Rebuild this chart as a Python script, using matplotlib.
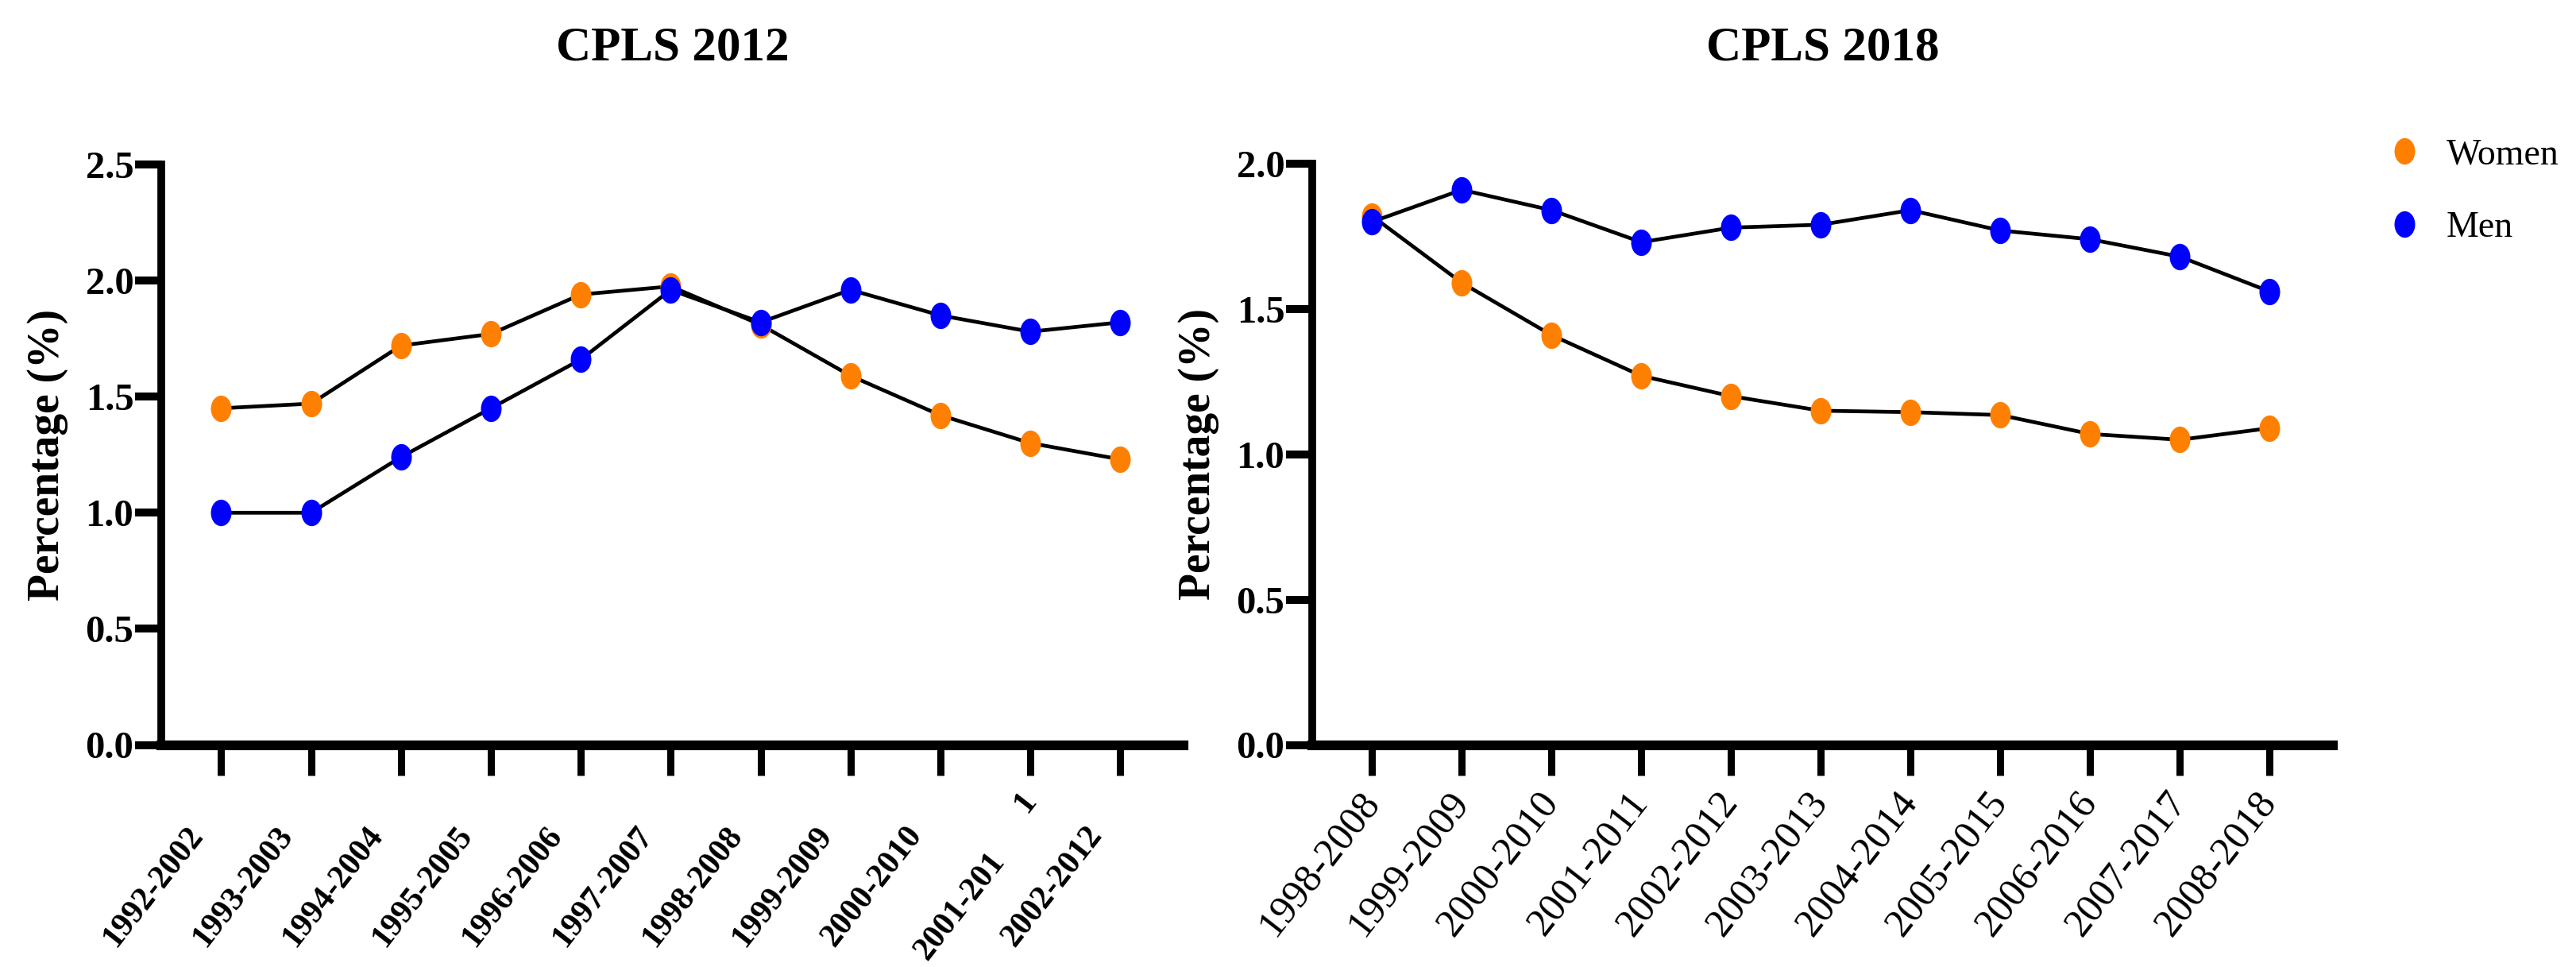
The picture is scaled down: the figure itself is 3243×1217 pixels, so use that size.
import matplotlib
matplotlib.use("Agg")
import matplotlib.pyplot as plt
from matplotlib.path import Path
from matplotlib.transforms import Affine2D, ScaledTranslation
from matplotlib.lines import Line2D

plt.rcParams['font.family'] = ['Liberation Serif', 'DejaVu Serif']

periods_2012 = ["1992-2002", "1993-2003", "1994-2004", "1995-2005", "1996-2006",
                "1997-2007", "1998-2008", "1999-2009", "2000-2010", "2001-201",
                "2002-2012"]
women_2012 = [1.45, 1.47, 1.72, 1.77, 1.94, 1.975, 1.81, 1.59, 1.42, 1.30, 1.23]
men_2012 = [1.00, 1.00, 1.24, 1.45, 1.66, 1.96, 1.82, 1.96, 1.85, 1.78, 1.82]

periods_2018 = ["1998-2008", "1999-2009", "2000-2010", "2001-2011", "2002-2012",
                "2003-2013", "2004-2014", "2005-2015", "2006-2016", "2007-2017",
                "2008-2018"]
women_2018 = [1.82, 1.59, 1.41, 1.27, 1.20, 1.15, 1.145, 1.135, 1.07, 1.05, 1.09]
men_2018 = [1.80, 1.91, 1.84, 1.73, 1.78, 1.79, 1.84, 1.77, 1.74, 1.68, 1.56]

ticks_2012 = [0.0, 0.5, 1.0, 1.5, 2.0, 2.5]
ticks_2018 = [0.0, 0.5, 1.0, 1.5, 2.0]

ORANGE = "#ff8000"
BLUE = "#0000ff"

# tall ellipse marker
ellipse = Path.unit_circle().transformed(Affine2D().scale(0.78, 1.0))

W, H = 3243, 1217
fig = plt.figure(figsize=(W / 100, H / 100), dpi=100)

x0 = 937.5  # pixel row of the x axis
ax1 = fig.add_axes([203 / W, (H - x0) / H, (1490 - 203) / W, (x0 - 207) / H])
ax2 = fig.add_axes([1652 / W, (H - x0) / H, (2937 - 1652) / W, (x0 - 206) / H])


def style_axes(ax, yticks):
    for s in ("top", "right"):
        ax.spines[s].set_visible(False)
    ax.spines["left"].set_linewidth(7)
    ax.spines["bottom"].set_linewidth(8.8)
    ax.set_ylim(yticks[0], yticks[-1])
    ax.set_yticks(yticks)
    ax.set_yticklabels([f"{t:.1f}" for t in yticks], fontsize=35, fontweight="bold")
    ax.tick_params(axis="y", length=24, width=7.2, pad=1)
    ax.set_ylabel("Percentage (%)", fontsize=40, fontweight="bold", va="center")
    ax.yaxis.set_label_coords(-143 / 1287, 0.5)


def draw(ax, women, men):
    xs = range(len(women))
    ax.plot(xs, women, color="black", lw=3.4, marker=ellipse, ms=24,
            mfc=ORANGE, mec="none", zorder=3)
    ax.plot(xs, men, color="black", lw=3.4, marker=ellipse, ms=24,
            mfc=BLUE, mec="none", zorder=4)
    ax.set_xlim(-0.667, 10.705)
    ax.set_xticks(list(xs))


# left panel
draw(ax1, women_2012, men_2012)
style_axes(ax1, ticks_2012)
ax1.set_xticklabels(periods_2012, fontsize=30, fontweight="bold", rotation=52,
                    ha="right", va="center", rotation_mode="anchor")
ax1.tick_params(axis="x", length=27.7, width=6.5, pad=49.7)
ax1.set_title("CPLS 2012", fontsize=44, fontweight="bold",
              y=(x0 - 60) / (x0 - 207), va="center", pad=0)
for i, lab in enumerate(ax1.get_xticklabels()):
    dx, dy = -30, 0
    if i == 9:
        dx, dy = -39, -33
    lab.set_transform(lab.get_transform() +
                      ScaledTranslation(dx / 100, dy / 100, fig.dpi_scale_trans))
ax1.annotate("1", xy=(9, 0), xycoords=("data", "axes fraction"),
             xytext=(-6, -(1010 - x0)), textcoords="offset pixels",
             fontsize=30, fontweight="bold", rotation=52,
             ha="center", va="center", rotation_mode="anchor")

# right panel
draw(ax2, women_2018, men_2018)
style_axes(ax2, ticks_2018)
ax2.set_xticklabels(periods_2018, fontsize=36, rotation=52,
                    ha="right", va="center", rotation_mode="anchor")
ax2.tick_params(axis="x", length=27.7, width=6.5, pad=18.7)
ax2.set_title("CPLS 2018", fontsize=44, fontweight="bold",
              y=(x0 - 60) / (x0 - 206), va="center", pad=0)

handles = [Line2D([], [], ls="none", marker=ellipse, ms=24, mfc=ORANGE, mec="none"),
           Line2D([], [], ls="none", marker=ellipse, ms=24, mfc=BLUE, mec="none")]
fig.legend(handles, ["Women", "Men"], loc="center left",
           bbox_to_anchor=(2999.5 / W, 1 - 241 / H), frameon=False,
           prop={"size": 33}, handlelength=1.2, handletextpad=0.55,
           borderpad=0, borderaxespad=0, labelspacing=1.07)

fig.savefig("out.png", dpi=100)
plt.close(fig)
